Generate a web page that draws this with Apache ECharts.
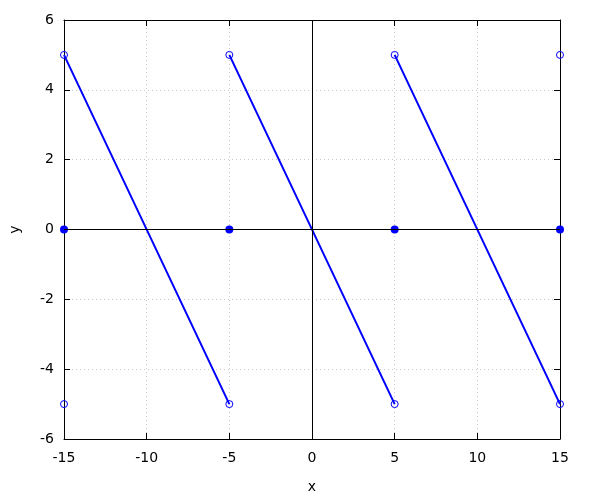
<!DOCTYPE html>
<html>
<head>
<meta charset="utf-8">
<script src="https://cdn.jsdelivr.net/npm/echarts@6/dist/echarts.min.js"></script>
<style>html,body{margin:0;padding:0;background:#fff}#c{width:600px;height:500px}</style>
</head>
<body>
<div id="c"></div>
<script>
// Sawtooth segments (x start, y start) -> (x end, y end)
const segX0 = [-15, -5, 5];
const segY0 = [5, 5, 5];
const segX1 = [-5, 5, 15];
const segY1 = [-5, -5, -5];
// Open circles (jump endpoints)
const openX = [-15, -15, -5, -5, 5, 5, 15, 15];
const openY = [5, -5, 5, -5, 5, -5, 5, -5];
// Filled dots (value at discontinuity)
const dotX = [-15, -5, 5, 15];
const dotY = [0, 0, 0, 0];
// Axes
const xTicks = [-15, 15, 5];   // min, max, interval
const yTicks = [-6, 6, 2];

const blue = '#0000ff';
const font = 'DejaVu Sans, sans-serif';

const lineData = [];
segX0.forEach((x, i) => {
  if (i > 0) lineData.push(['-', '-']);
  lineData.push([x, segY0[i]]);
  lineData.push([segX1[i], segY1[i]]);
});

const chart = echarts.init(document.getElementById('c'), null, {renderer: 'canvas'});

const baseAxisLine = {show: true, onZero: false, lineStyle: {color: '#000', width: 1}};
chart.setOption({
  animation: false,
  backgroundColor: '#fff',
  grid: {left: 64, right: 40, top: 20, bottom: 61, containLabel: false},
  xAxis: [{
    type: 'value', min: xTicks[0], max: xTicks[1], interval: xTicks[2],
    position: 'bottom',
    name: 'x', nameLocation: 'middle', nameGap: 41,
    nameTextStyle: {color: '#000', fontFamily: font, fontSize: 14},
    axisLine: baseAxisLine,
    axisTick: {show: true, inside: true, length: 6, lineStyle: {color: '#000'}},
    axisLabel: {color: '#000', fontFamily: font, fontSize: 14, margin: 12},
    splitLine: {show: true, lineStyle: {color: '#c8c8c8', type: [1, 3], width: 1}}
  }, {
    type: 'value', min: xTicks[0], max: xTicks[1], interval: xTicks[2],
    position: 'top',
    axisLine: baseAxisLine,
    axisTick: {show: true, inside: true, length: 6, lineStyle: {color: '#000'}},
    axisLabel: {show: false},
    splitLine: {show: false}
  }],
  yAxis: [{
    type: 'value', min: yTicks[0], max: yTicks[1], interval: yTicks[2],
    position: 'left',
    name: 'y', nameLocation: 'middle', nameGap: 42, nameRotate: 90,
    nameTextStyle: {color: '#000', fontFamily: font, fontSize: 14},
    axisLine: baseAxisLine,
    axisTick: {show: true, inside: true, length: 6, lineStyle: {color: '#000'}},
    axisLabel: {color: '#000', fontFamily: font, fontSize: 14, margin: 10},
    splitLine: {show: true, lineStyle: {color: '#c8c8c8', type: [1, 3], width: 1}}
  }, {
    type: 'value', min: yTicks[0], max: yTicks[1], interval: yTicks[2],
    position: 'right',
    axisLine: baseAxisLine,
    axisTick: {show: true, inside: true, length: 6, lineStyle: {color: '#000'}},
    axisLabel: {show: false},
    splitLine: {show: false}
  }],
  series: [{
    type: 'line', data: [], silent: true, z: 1,
    markLine: {
      silent: true, symbol: 'none', label: {show: false},
      lineStyle: {color: '#000', width: 1, type: 'solid'},
      data: [{xAxis: 0}, {yAxis: 0}]
    }
  }, {
    type: 'line', data: lineData, connectNulls: false, showSymbol: false, z: 2,
    lineStyle: {color: blue, width: 2}
  }, {
    type: 'scatter', data: openX.map((x, i) => [x, openY[i]]), z: 3,
    symbol: 'circle', symbolSize: 7,
    itemStyle: {color: 'rgba(0,0,0,0)', borderColor: blue, borderWidth: 1, opacity: 1}
  }, {
    type: 'scatter', data: dotX.map((x, i) => [x, dotY[i]]), z: 4,
    symbol: 'circle', symbolSize: 8,
    itemStyle: {color: blue, opacity: 1}
  }]
});
</script>
</body>
</html>
